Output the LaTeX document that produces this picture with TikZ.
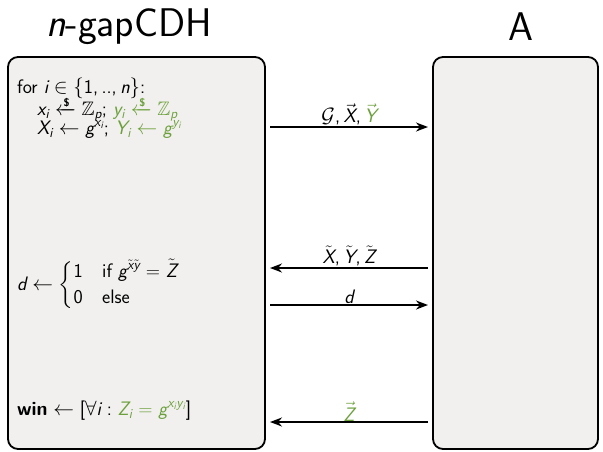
\documentclass[tikz,border=0pt]{standalone}
\usepackage{amsmath,amssymb}
\usetikzlibrary{arrows.meta}
\DeclareMathVersion{sans}
\SetSymbolFont{operators}{sans}{\encodingdefault}{\sfdefault}{m}{n}
\SetSymbolFont{letters}{sans}{\encodingdefault}{\sfdefault}{m}{it}
\SetMathAlphabet{\mathrm}{sans}{\encodingdefault}{\sfdefault}{m}{n}
\SetMathAlphabet{\mathbf}{sans}{\encodingdefault}{\sfdefault}{bx}{n}
\SetMathAlphabet{\mathit}{sans}{\encodingdefault}{\sfdefault}{m}{it}
\DeclareSymbolFont{cmletters}{OML}{cmm}{m}{it}
\DeclareSymbolFont{cmops}{OT1}{cmr}{m}{n}
\DeclareMathAccent{\vec}{\mathord}{cmletters}{"7E}
\DeclareMathAccent{\tilde}{\mathord}{cmops}{"7E}
\mathcode`\,="602C
\mathcode`\.="002E
\definecolor{grn}{RGB}{108,160,60}
\definecolor{boxfill}{RGB}{241,240,238}
\newcommand{\rsample}{\xleftarrow{\raisebox{-3pt}[0pt][0pt]{\fontsize{11}{11}\selectfont\sffamily\bfseries\$}}}
\begin{document}
\begin{tikzpicture}[x=1pt,y=-1pt,
  party/.style={draw=black,line width=1.8pt,rounded corners=10pt,fill=boxfill},
  msg/.style={line width=1.8pt,-{Stealth[length=12pt,width=9pt]}},
  txt/.style={anchor=base west,inner sep=0pt,font=\fontsize{19.5}{21.5}\selectfont\sffamily\mathversion{sans}},
  lbl/.style={inner sep=1pt,font=\fontsize{19.5}{21.5}\selectfont\sffamily\mathversion{sans}},
  title/.style={inner sep=0pt,font=\fontsize{40}{46}\selectfont\sffamily\mathversion{sans}}]
\useasboundingbox (0,0) rectangle (603,451);
\path[party] (8,57) rectangle (265,449);
\path[party] (433,57) rectangle (598,449);
\node[title] (tc) at (129,27) {$n$-gapCDH};
\node[title] (ta) at (521,27) {A};
\node[txt] (l1) at (17,93) {for $i\in\{1,..,n\}$:};
\node[txt] (l2) at (37,115) {$x_i \rsample \mathbb{Z}_p$; \textcolor{grn}{$y_i \rsample \mathbb{Z}_p$}};
\node[txt] (l3) at (37,134) {$X_i\leftarrow g^{x_i}$; \textcolor{grn}{$Y_i\leftarrow g^{y_i}$}};
\node[txt,anchor=west] (l4) at (17,285) {$d\leftarrow\begin{cases}1 & \text{if } g^{\tilde x\tilde y}=\tilde Z\\ 0 & \text{else}\end{cases}$};
\node[txt] (l5) at (17,415) {$\mathbf{win}\leftarrow[\forall i:\textcolor{grn}{Z_i=g^{x_iy_i}}]$};
\coordinate (a1) at (270,127); \coordinate (b1) at (428,127);
\coordinate (a2) at (270,268); \coordinate (b2) at (428,268);
\coordinate (a3) at (270,305); \coordinate (b3) at (428,305);
\coordinate (a4) at (270,422); \coordinate (b4) at (428,422);
\draw[msg] (a1) -- node[lbl,above] (m1) {$\mathcal{G},\vec X,\textcolor{grn}{\vec Y}$} (b1);
\draw[msg] (b2) -- node[lbl,above] (m2) {$\tilde X,\tilde Y,\tilde Z$} (a2);
\draw[msg] (a3) -- node[lbl,above,inner sep=0pt] (m3) {$d$} (b3);
\draw[msg] (b4) -- node[lbl,above,inner sep=0pt] (m4) {\textcolor{grn}{$\vec Z$}} (a4);
\end{tikzpicture}
\end{document}
